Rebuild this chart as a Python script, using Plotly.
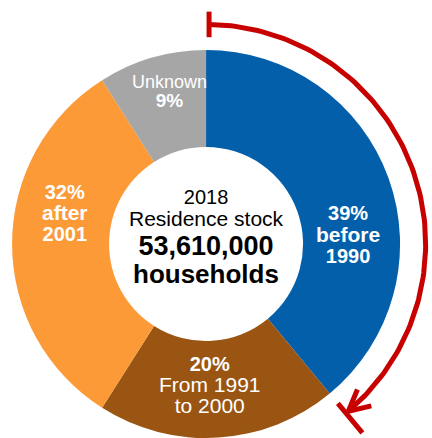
import numpy as np
import plotly.graph_objects as go

# Housing stock 2018 by construction period (share of households, %)
periods = ["before 1990", "From 1991 to 2000", "after 2001", "Unknown"]
shares = [39, 20, 32, 9]
colors = ["#045FAB", "#9A5513", "#FD9A38", "#A6A6A6"]
center_lines = ["2018", "Residence stock", "53,610,000", "households"]

W, H = 432, 438
FONT = "Arial, Liberation Sans, sans-serif"
RED = "#C70000"

# pie box: the ring touches the bottom edge of the figure
dom_x = [0.0, 0.954]
dom_y = [0.0, 0.8858]
R = min((dom_x[1] - dom_x[0]) * W, (dom_y[1] - dom_y[0]) * H) / 2
cx = W * (dom_x[0] + dom_x[1]) / 2
cy = H - H * (dom_y[0] + dom_y[1]) / 2
s = R / 197.0  # layout unit for offsets around the centre

fig = go.Figure()
fig.add_trace(go.Pie(
    values=shares, labels=periods, sort=False, direction="clockwise",
    rotation=0, hole=0.5, textinfo="none", hoverinfo="label+percent",
    marker=dict(colors=colors, line=dict(width=0)),
    domain=dict(x=dom_x, y=dom_y), showlegend=False,
))

# red bracket arrow spanning the oldest stock
Ra = 223 * s
def pt(theta, r):
    return cx + r * np.sin(theta), cy - r * np.cos(theta)

end = np.deg2rad(shares[0] * 3.6)
tip = end - 3.0 / Ra
th = np.linspace(0.012, tip, 120)
ax_, ay_ = pt(th, Ra)
line = dict(color=RED, width=5)
fig.add_trace(go.Scatter(x=ax_, y=ay_, mode="lines", line=line, hoverinfo="skip", showlegend=False))

bx, by = pt(np.array([0.0, 0.0]), np.array([Ra - 13 * s, Ra + 13 * s]))
fig.add_trace(go.Scatter(x=bx + 3, y=by, mode="lines", line=line, hoverinfo="skip", showlegend=False))

ex, ey = pt(np.array([end, end]), np.array([Ra - 13 * s, Ra + 26 * s]))
fig.add_trace(go.Scatter(x=ex, y=ey, mode="lines", line=line, hoverinfo="skip", showlegend=False))

tx, ty = pt(tip, Ra)
back = np.array([-np.cos(tip), -np.sin(tip)])
arm = 24 * s
heads = []
for a in (np.deg2rad(27), -np.deg2rad(27)):
    rot = np.array([[np.cos(a), -np.sin(a)], [np.sin(a), np.cos(a)]]) @ back
    heads.append((tx + arm * rot[0], ty + arm * rot[1]))
fig.add_trace(go.Scatter(
    x=[heads[0][0], tx, heads[1][0]], y=[heads[0][1], ty, heads[1][1]],
    mode="lines", line=line, hoverinfo="skip", showlegend=False))


def add_block(lines, dx, dy, gap, color):
    """Multi-line label centred at (dx, dy) from the ring centre.

    lines: (text, size, bold). The base font sets the line pitch (1.3 em),
    while each line is drawn at its own size.
    """
    parts = []
    for txt, size, bold in lines:
        t = f"<b>{txt}</b>" if bold else txt
        parts.append(f'<span style="font-size:{size}px">{t}</span>')
    fig.add_annotation(x=cx + dx * s, y=cy + dy * s, xref="x", yref="y",
                       text="<br>".join(parts), showarrow=False,
                       xanchor="center", yanchor="middle", align="center",
                       borderpad=0,
                       font=dict(family=FONT, size=gap / 1.3, color=color))


add_block([(center_lines[0], 20, False), (center_lines[1], 21, False)],
          0, -36.5, 22, "#000000")
add_block([(center_lines[2], 27, True), (center_lines[3], 26, True)],
          0, 16.5, 28, "#000000")

add_block([(f"{shares[0]}%", 20, True), ("before", 21, True), ("1990", 20, True)],
          144, -10, 21.5, "#FFFFFF")
add_block([(f"{shares[1]}%", 20, True), ("From 1991", 21, False), ("to 2000", 21, False)],
          3.5, 143.5, 21.0, "#FFFFFF")
add_block([(f"{shares[2]}%", 20, True), ("after", 21, True), ("2001", 20, True)],
          -143.3, -31.3, 21.0, "#FFFFFF")
add_block([("Unknown", 18, False), (f"{shares[3]}%", 19, True)],
          -37, -154.5, 19.0, "#FFFFFF")

fig.update_layout(
    width=W, height=H, margin=dict(l=0, r=0, t=0, b=0),
    paper_bgcolor="white", plot_bgcolor="rgba(0,0,0,0)",
    xaxis=dict(range=[0, W], visible=False, fixedrange=True, domain=[0, 1]),
    yaxis=dict(range=[H, 0], visible=False, fixedrange=True, domain=[0, 1]),
)
fig.write_html("out.html")
